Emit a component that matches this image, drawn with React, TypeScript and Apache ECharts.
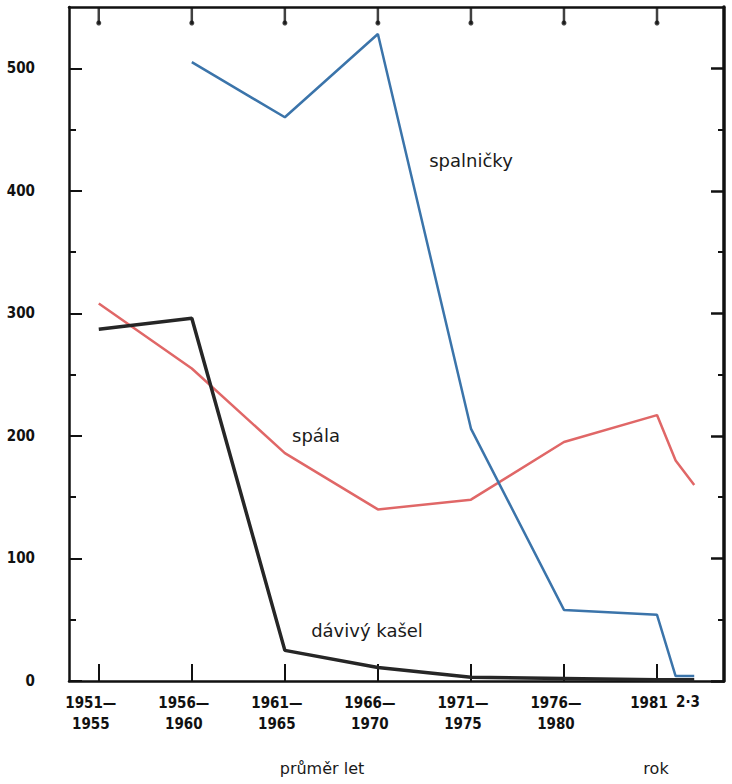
import React, { useEffect, useRef } from "react";
import * as echarts from "echarts";

// x positions: category index of each data point (0 = 1951–1955 … 6 = 1981, then 1982, 1983)
const pointPositions = [0, 1, 2, 3, 4, 5, 6, 6.2, 6.4];
const periodLabels = [
  "1951—\n1955",
  "1956—\n1960",
  "1961—\n1965",
  "1966—\n1970",
  "1971—\n1975",
  "1976—\n1980",
  "1981",
];
const lateYearsLabel = "2·3";
const tickPositions = [0, 1, 2, 3, 4, 5, 6];
const yTickValues = [0, 100, 200, 300, 400, 500];
const Y_MAX = 550;

const measles = [null, 505, 460, 528, 206, 58, 54, 4, 4]; // spalničky
const scarlet = [308, 255, 186, 140, 148, 195, 217, 180, 160]; // spála
const pertussis = [287, 296, 25, 11, 3, 2, 1, 1, 1]; // dávivý kašel

const NUM_FONT = "'DejaVu Sans Condensed', 'DejaVu Sans', sans-serif";
const TXT_FONT = "'DejaVu Sans', sans-serif";

export default function App() {
  const ref = useRef<HTMLDivElement>(null);
  useEffect(() => {
    if (!ref.current) return;
    const chart = echarts.init(ref.current, null, { renderer: "svg" });
    const pts = (vals: (number | null)[]) =>
      pointPositions.map((x, i) => [x, vals[i]]).filter((p) => p[1] !== null);
    const topTicks = tickPositions.map((x) => [x, Y_MAX]);
    const xMin = -0.32;
    const xMax = 6.72;
    const axisColor = "#111";
    chart.setOption({
      animation: false,
      backgroundColor: "#fff",
      grid: { left: 69, right: 8, top: 7, bottom: 103, containLabel: false },
      xAxis: [
        {
          type: "value",
          min: xMin,
          max: xMax,
          position: "bottom",
          splitLine: { show: false },
          axisLine: { show: true, onZero: false, lineStyle: { color: axisColor, width: 2.5 } },
          axisTick: {
            show: true,
            inside: true,
            length: 17,
            customValues: tickPositions,
            lineStyle: { color: axisColor, width: 2 },
          },
          axisLabel: {
            show: true,
            customValues: tickPositions,
            formatter: (v: number) => periodLabels[Math.round(v)] ?? "",
            fontFamily: NUM_FONT,
            fontWeight: "bold",
            fontSize: 15,
            lineHeight: 21,
            color: "#111",
            margin: 11,
            padding: [0, 16, 0, 0],
          },
        },
        {
          type: "value",
          min: xMin,
          max: xMax,
          position: "top",
          splitLine: { show: false },
          axisLine: { show: true, onZero: false, lineStyle: { color: axisColor, width: 2.5 } },
          axisTick: { show: false },
          axisLabel: { show: false },
        },
      ],
      yAxis: [
        {
          type: "value",
          min: 0,
          max: Y_MAX,
          position: "left",
          splitLine: { show: false },
          axisLine: { show: true, onZero: false, lineStyle: { color: axisColor, width: 2.5 } },
          axisTick: {
            show: true,
            inside: true,
            length: 13,
            customValues: yTickValues,
            lineStyle: { color: axisColor, width: 2 },
          },
          minorTick: { show: true, splitNumber: 2, length: 7, lineStyle: { color: axisColor, width: 2 } },
          axisLabel: {
            show: true,
            customValues: yTickValues,
            fontFamily: NUM_FONT,
            fontWeight: "bold",
            fontSize: 15,
            color: "#111",
            margin: 34,
          },
        },
        {
          type: "value",
          min: 0,
          max: Y_MAX,
          position: "right",
          splitLine: { show: false },
          axisLine: { show: true, onZero: false, lineStyle: { color: axisColor, width: 3.5 } },
          axisTick: {
            show: true,
            inside: true,
            length: 13,
            customValues: yTickValues,
            lineStyle: { color: axisColor, width: 2.5 },
          },
          minorTick: { show: true, splitNumber: 2, length: 6, lineStyle: { color: axisColor, width: 2 } },
          axisLabel: { show: false },
        },
      ],
      series: [
        {
          name: "topTicks",
          type: "scatter",
          data: topTicks,
          symbol: "rect",
          symbolSize: [2.5, 17],
          symbolOffset: [0, 8.5],
          itemStyle: { color: axisColor },
          clip: false,
          silent: true,
          z: 6,
        },
        {
          name: "topTickEnds",
          type: "scatter",
          data: topTicks,
          symbol: "circle",
          symbolSize: 5,
          symbolOffset: [0, 16],
          itemStyle: { color: axisColor },
          clip: false,
          silent: true,
          z: 6,
        },
        {
          name: "spála",
          type: "line",
          data: pts(scarlet),
          symbol: "none",
          lineStyle: { color: "#e06767", width: 2.5 },
          z: 3,
        },
        {
          name: "spalničky",
          type: "line",
          data: pts(measles),
          symbol: "none",
          lineStyle: { color: "#3b74aa", width: 2.5 },
          z: 4,
        },
        {
          name: "dávivý kašel",
          type: "line",
          data: pts(pertussis),
          symbol: "none",
          lineStyle: { color: "#262626", width: 3.5 },
          z: 5,
        },
      ],
      graphic: [
        {
          type: "text",
          x: 471,
          y: 160,
          style: { text: "spalničky", font: `18px ${TXT_FONT}`, fill: "#1a1a1a", align: "center", verticalAlign: "middle" },
        },
        {
          type: "text",
          x: 316,
          y: 435,
          style: { text: "spála", font: `18px ${TXT_FONT}`, fill: "#1a1a1a", align: "center", verticalAlign: "middle" },
        },
        {
          type: "text",
          x: 367,
          y: 630,
          style: { text: "dávivý kašel", font: `18px ${TXT_FONT}`, fill: "#1a1a1a", align: "center", verticalAlign: "middle" },
        },
        {
          type: "text",
          x: 688,
          y: 702,
          style: { text: lateYearsLabel, font: `bold 15px ${NUM_FONT}`, fill: "#111", align: "center", verticalAlign: "middle" },
        },
        {
          type: "text",
          x: 322,
          y: 768,
          style: { text: "průměr let", font: `16px ${TXT_FONT}`, fill: "#1a1a1a", align: "center", verticalAlign: "middle" },
        },
        {
          type: "text",
          x: 656,
          y: 768,
          style: { text: "rok", font: `16px ${TXT_FONT}`, fill: "#1a1a1a", align: "center", verticalAlign: "middle" },
        },
      ],
    });
    return () => chart.dispose();
  }, []);
  return (
    <div
      ref={ref}
      style={{ position: "fixed", left: 0, top: 0, width: 732, height: 784, background: "#fff" }}
    />
  );
}
